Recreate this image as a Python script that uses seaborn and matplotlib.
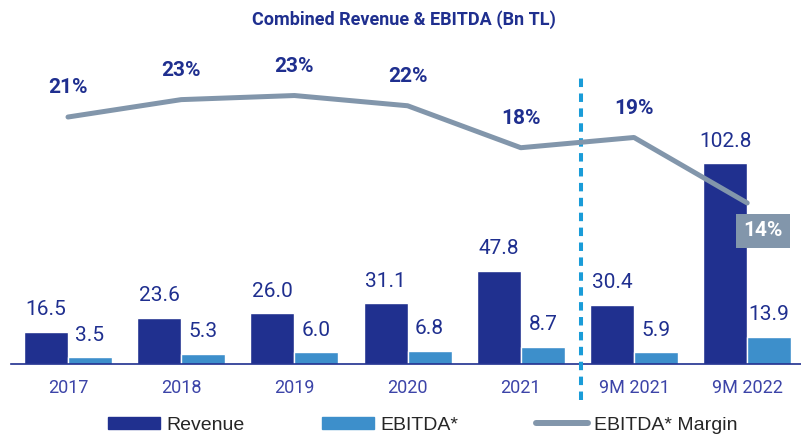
import pandas as pd
import numpy as np
import matplotlib
matplotlib.use("Agg")
import matplotlib.pyplot as plt
import seaborn as sns
from matplotlib.patches import Patch
from matplotlib.lines import Line2D

periods = ["2017", "2018", "2019", "2020", "2021", "9M 2021", "9M 2022"]
revenue = [16.5, 23.6, 26.0, 31.1, 47.8, 30.4, 102.8]
ebitda = [3.5, 5.3, 6.0, 6.8, 8.7, 5.9, 13.9]
margin = [21.2, 22.9, 23.3, 22.3, 18.2, 19.2, 12.8]
margin_labels = ["21%", "23%", "23%", "22%", "18%", "19%", "14%"]

navy = "#20308f"
light = "#3d8fcb"
grey = "#8296ab"
text_blue = "#1f2f8f"

sns.set_style("white")
plt.rcParams["font.family"] = ["Roboto", "DejaVu Sans"]

df = pd.DataFrame({
    "period": periods * 2,
    "metric": ["Revenue"] * len(periods) + ["EBITDA*"] * len(periods),
    "value": revenue + ebitda,
})

fig = plt.figure(figsize=(8.01, 4.36), dpi=100)
ax = fig.add_axes([11.4 / 801, 72 / 436, 792.4 / 801, 314 / 436])

sns.barplot(data=df, x="period", y="value", hue="metric", palette=[navy, light],
            width=0.778, gap=0, saturation=1, legend=False, ax=ax)
ax.set_xlim(-0.5, 6.5)
ax.set_ylim(0, 160.6)
for cont in ax.containers:
    ax.bar_label(cont, fmt="%.1f", padding=9, fontsize=15, color=text_blue)

ax.set_xlabel("")
ax.set_ylabel("")
ax.set_yticks([])
ax.tick_params(axis="x", length=0, pad=11, labelsize=13, labelcolor="#3c44a8")
for s in ["top", "right", "left"]:
    ax.spines[s].set_visible(False)
ax.spines["bottom"].set_color(text_blue)
ax.spines["bottom"].set_linewidth(1.2)

# divider between full years and 9M figures
ax.plot([4.53, 4.53], [-18.4, 148.3], color="#1a9cd8", lw=2.9,
        ls=(0, (2.1, 1.6)), clip_on=False, zorder=5)

ax2 = ax.twinx()
xpos = np.arange(len(periods))
sns.lineplot(x=xpos, y=margin, ax=ax2, color=grey, lw=3.6, legend=False)
ax2.set_ylim(-2.94, 27.75)
ax2.set_yticks([])
ax2.set_ylabel("")
for s in ax2.spines.values():
    s.set_visible(False)

for i, (v, lab) in enumerate(zip(margin, margin_labels)):
    if i == len(margin) - 1:
        ax2.annotate(lab, (i, v), xytext=(11.5, -20), textcoords="offset points",
                     ha="center", va="center", fontsize=15, fontweight="bold",
                     color="white",
                     bbox=dict(boxstyle="square,pad=0.35", fc=grey, ec="none"))
    else:
        ax2.annotate(lab, (i, v), xytext=(0, 21), textcoords="offset points",
                     ha="center", va="center", fontsize=15, fontweight="bold",
                     color=text_blue)

fig.text(0.504, 0.955, "Combined Revenue & EBITDA (Bn TL)", ha="center", va="center",
         fontsize=13, fontweight="bold", color=text_blue)

handles = [Patch(color=navy, label="Revenue"),
           Patch(color=light, label="EBITDA*"),
           Line2D([], [], color=grey, lw=4.3, label="EBITDA* Margin")]
fig.legend(handles=handles, loc="center", bbox_to_anchor=(0.528, 0.025), ncol=3,
           frameon=False, handlelength=2.68, handleheight=0.55, handletextpad=0.3,
           columnspacing=4.0, prop={"family": ["Liberation Sans", "DejaVu Sans"], "size": 14})

fig.savefig("out.png", dpi=100)
